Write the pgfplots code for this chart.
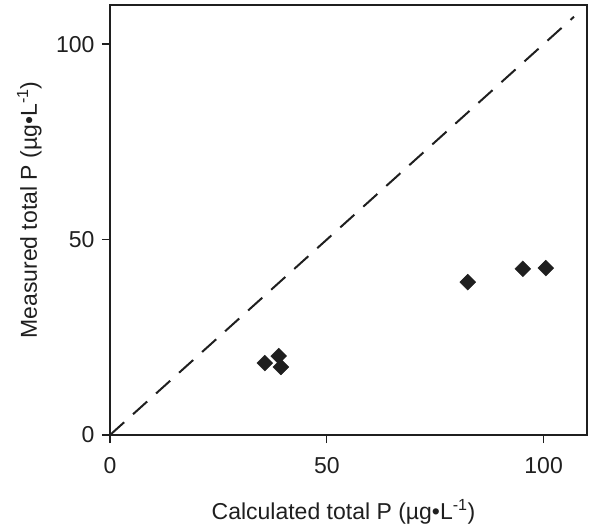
\documentclass[border=0pt]{standalone}
\usepackage{pgfplots}
\pgfplotsset{compat=1.18}
\usepackage{fontspec}
\setmainfont{Liberation Sans}
\definecolor{ink}{gray}{0.12}
\begin{document}
\begin{tikzpicture}
\useasboundingbox (-110bp,-94bp) rectangle (479bp,435bp);
\begin{axis}[
  at={(0,0)}, anchor=south west,
  scale only axis, width=477bp, height=430bp,
  xmin=0, xmax=110, ymin=0, ymax=110,
  xtick={0,50,100}, ytick={0,50,100},
  tick align=outside, tick pos=left,
  major tick length=8bp,
  axis line style={line width=1.2bp, ink},
  tick style={line width=1.2bp, ink},
  /pgf/number format/assume math mode=true,
  ticklabel style={font=\fontsize{23bp}{27bp}\selectfont, text=ink},
  label style={font=\fontsize{23bp}{27bp}\selectfont, text=ink},
  xticklabel style={yshift=-11bp},
  yticklabel style={xshift=-4bp},
  xlabel={Calculated total P (µg•L\textsuperscript{-1})},
  ylabel={Measured total P (µg•L\textsuperscript{-1})},
  xlabel style={at={([yshift=-84bp, xshift=-5bp]axis description cs:0.5,0)}, anchor=base},
  ylabel style={at={([xshift=-73bp, yshift=10bp]axis description cs:0,0.5)}, anchor=base, rotate=0},
  clip=false,
]
\addplot[ink, line width=2bp, dash pattern=on 19bp off 12bp] coordinates {(0,0) (107,107)};
\addplot[only marks, mark=square*, mark size=5.6bp, mark options={rotate=45, fill=ink, draw=ink}] coordinates {
(35.7,18.4) (38.9,20.2) (39.4,17.4) (82.5,39.1) (95.2,42.5) (100.5,42.7)
};
\end{axis}
\end{tikzpicture}
\end{document}
